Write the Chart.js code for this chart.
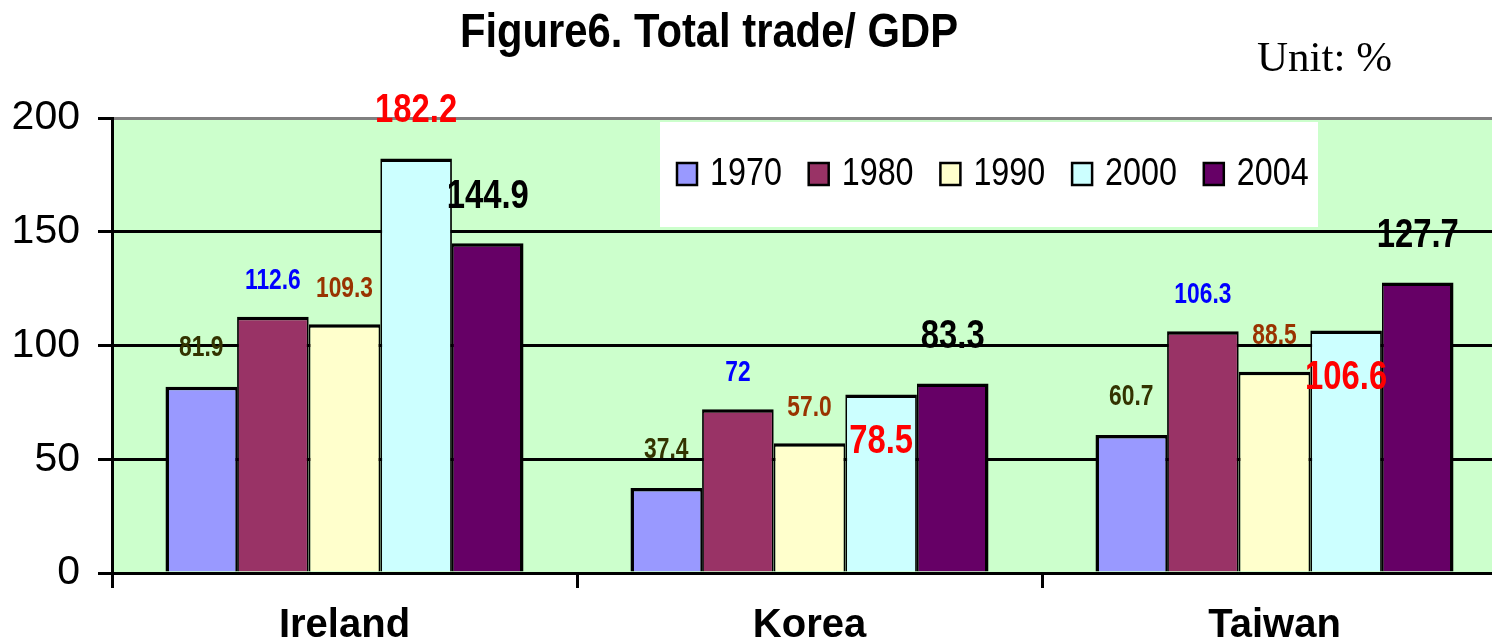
<!DOCTYPE html>
<html>
<head>
<meta charset="utf-8">
<script src="https://cdn.jsdelivr.net/npm/chart.js@4"></script>
<style>
  html, body { margin: 0; padding: 0; background: #fff; overflow: hidden; }
</style>
</head>
<body>
<canvas id="chart" width="1520" height="644"></canvas>
<script>
// data
const categories = ['Ireland', 'Korea', 'Taiwan'];
const years = ['1970', '1980', '1990', '2000', '2004'];
const v1970 = [81.9, 37.4, 60.7];
const v1980 = [112.6, 72, 106.3];
const v1990 = [109.3, 57.0, 88.5];
const v2000 = [182.2, 78.5, 106.6];
const v2004 = [144.9, 83.3, 127.7];
const yTicks = [0, 50, 100, 150, 200];
// values printed without a decimal in the figure: [series, point]
const noDecimal = [[1, 1]];

const series = [v1970, v1980, v1990, v2000, v2004];
const barColors = ['#9999ff', '#993366', '#ffffcc', '#ccffff', '#660066'];

// value label look, per series (dy = offset of label centre from bar top)
const labelStyles = [
  { color: '#333300', size: 30, sx: 0.76, dy: -41 },
  { color: '#0000ff', size: 30, sx: 0.76, dy: -39 },
  { color: '#993300', size: 30, sx: 0.76, dy: -38 },
  { color: '#ff0000', size: 40, sx: 0.82, dy: [-51, 44, 44] },
  { color: '#000000', size: 40, sx: 0.82, dy: -50 }
];

function hasFont(name) {
  const c = document.createElement('canvas').getContext('2d');
  c.font = '40px monospace';
  const a = c.measureText('Ireland 1970').width;
  c.font = '40px "' + name + '", monospace';
  const b = c.measureText('Ireland 1970').width;
  return Math.abs(a - b) > 0.5;
}
const narrow = hasFont('Liberation Sans Narrow');
const axisFamily = narrow ? '"Liberation Sans Narrow", "Liberation Sans", sans-serif' : '"Liberation Sans", Arial, sans-serif';

// draw horizontally squeezed text (the original uses a narrow face)
function squeezed(ctx, text, x, baseline, font, color, sx, align) {
  ctx.save();
  ctx.font = font;
  ctx.fillStyle = color;
  ctx.textAlign = align || 'center';
  ctx.textBaseline = 'alphabetic';
  ctx.translate(x, baseline);
  ctx.scale(sx, 1);
  ctx.fillText(text, 0, 0);
  ctx.restore();
}

const plotBackground = {
  id: 'plotBackground',
  beforeDraw(chart) {
    const { ctx, chartArea: a } = chart;
    ctx.save();
    ctx.fillStyle = '#ccffcc';
    ctx.fillRect(a.left, a.top, a.right - a.left, a.bottom - a.top);
    ctx.restore();
  }
};

const valueLabels = {
  id: 'valueLabels',
  afterDatasetsDraw(chart) {
    const ctx = chart.ctx;
    chart.data.datasets.forEach((ds, i) => {
      const st = labelStyles[i];
      chart.getDatasetMeta(i).data.forEach((bar, j) => {
        const v = ds.data[j];
        const plain = noDecimal.some(p => p[0] === i && p[1] === j);
        const text = plain ? String(Math.round(v)) : v.toFixed(1);
        const dy = Array.isArray(st.dy) ? st.dy[j] : st.dy;
        const cy = bar.y + dy;
        squeezed(ctx, text, bar.x, cy + st.size * 0.36,
          'bold ' + st.size + 'px "Liberation Sans", Arial, sans-serif', st.color, st.sx);
      });
    });
  }
};

const decorations = {
  id: 'decorations',
  afterDraw(chart) {
    const ctx = chart.ctx;
    // title and unit note
    squeezed(ctx, 'Figure6. Total trade/ GDP', 709, 47,
      'bold 48px "Liberation Sans", Arial, sans-serif', '#000', 0.87);
    ctx.save();
    ctx.font = '43px "Liberation Serif", "Times New Roman", serif';
    ctx.fillStyle = '#000';
    ctx.textAlign = 'left';
    ctx.textBaseline = 'alphabetic';
    ctx.fillText('Unit: %', 1257, 71);
    ctx.restore();

    // legend inside the plot, on a white panel
    ctx.save();
    ctx.fillStyle = '#ffffff';
    ctx.fillRect(660, 122, 658, 105);
    chart.data.datasets.forEach((ds, i) => {
      const x0 = 677 + i * 131.7;
      ctx.fillStyle = ds.backgroundColor;
      ctx.fillRect(x0, 163, 20, 22);
      ctx.strokeStyle = '#000';
      ctx.lineWidth = 2.5;
      ctx.strokeRect(x0, 163, 20, 22);
      squeezed(ctx, ds.label, x0 + 33, 185,
        '38px "Liberation Sans", Arial, sans-serif', '#000', 0.85, 'left');
    });
    ctx.restore();
  }
};

const datasets = series.map((data, i) => ({
  label: years[i],
  data: data,
  backgroundColor: barColors[i],
  borderColor: '#000',
  borderWidth: { top: 3.5, left: i === 0 ? 3.5 : 1.8, right: i === series.length - 1 ? 3.5 : 1.8, bottom: 0 },
  categoryPercentage: 0.77,
  barPercentage: 1.0
}));

new Chart(document.getElementById('chart'), {
  type: 'bar',
  data: { labels: categories, datasets: datasets },
  plugins: [plotBackground, valueLabels, decorations],
  options: {
    responsive: false,
    devicePixelRatio: 1,
    animation: false,
    layout: { padding: { top: 118, right: 13, left: 0, bottom: 0 } },
    plugins: {
      legend: { display: false },
      title: { display: false },
      tooltip: { enabled: false }
    },
    scales: {
      x: {
        afterFit(s) { s.height = 71; },
        grid: {
          offset: true,
          drawOnChartArea: false,
          drawTicks: true,
          tickLength: 15,
          color: '#000',
          lineWidth: 3
        },
        border: { display: true, color: '#000', width: 3 },
        ticks: {
          color: '#000',
          padding: 14,
          font: { family: axisFamily, size: narrow ? 44 : 40, weight: 'bold' }
        }
      },
      y: {
        min: 0,
        max: 200,
        afterFit(s) { s.width = 112; },
        afterBuildTicks(s) { s.ticks = yTicks.map(v => ({ value: v })); },
        grid: {
          color: c => (c.tick && c.tick.value === 200 ? '#808080' : '#000'),
          tickColor: '#000',
          lineWidth: 3,
          tickWidth: 3,
          tickLength: 14
        },
        border: { display: true, color: '#000', width: 3 },
        ticks: {
          color: '#000',
          padding: 18,
          font: { family: axisFamily, size: narrow ? 42 : 41 }
        }
      }
    }
  }
});
</script>
</body>
</html>
